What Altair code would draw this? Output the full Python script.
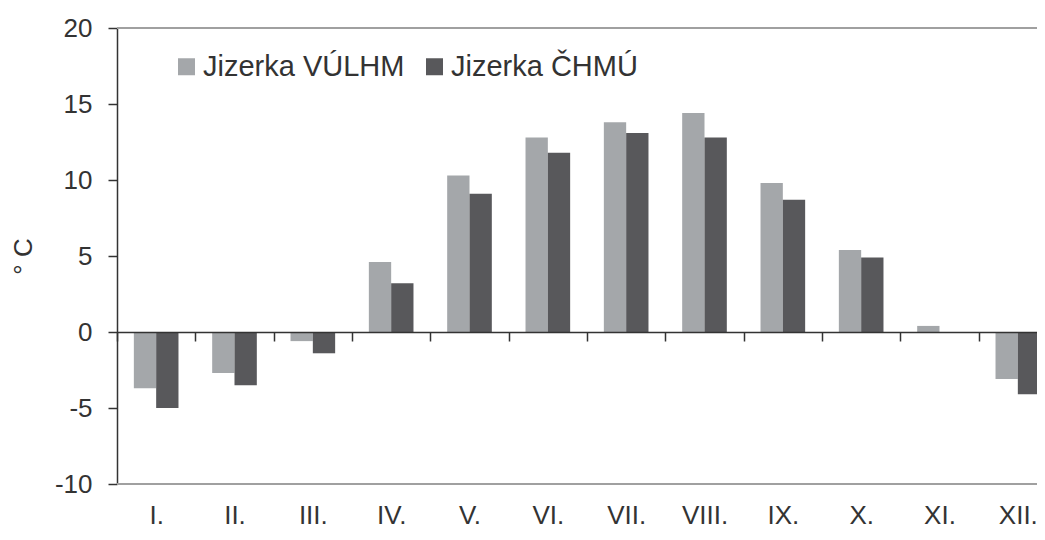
import altair as alt
import pandas as pd

months = ["I.", "II.", "III.", "IV.", "V.", "VI.", "VII.", "VIII.", "IX.", "X.", "XI.", "XII."]
series_names = ["Jizerka VÚLHM", "Jizerka ČHMÚ"]
vulhm = [-3.7, -2.7, -0.6, 4.6, 10.3, 12.8, 13.8, 14.4, 9.8, 5.4, 0.4, -3.1]
chmu = [-5.0, -3.5, -1.4, 3.2, 9.1, 11.8, 13.1, 12.8, 8.7, 4.9, 0.0, -4.1]
y_ticks = [-10, -5, 0, 5, 10, 15, 20]
colors = ["#a4a7aa", "#58585b"]

rows = []
for m, a, b in zip(months, vulhm, chmu):
    rows.append({"month": m, "series": series_names[0], "value": a})
    rows.append({"month": m, "series": series_names[1], "value": b})
df = pd.DataFrame(rows)
frame_df = pd.DataFrame({"value": [y_ticks[0], y_ticks[-1]]})

FONT = "Liberation Sans"
TEXT = "#333333"
AX = "#333333"
W, H = 920, 456
y_scale = alt.Scale(domain=[y_ticks[0], y_ticks[-1]], nice=False, zero=False)
y_axis = alt.Axis(
    values=y_ticks, grid=False, tickSize=9, labelPadding=16,
    labelExpr="toString(datum.value)",
    labelFontSize=26, labelFont=FONT, labelColor=TEXT,
    titleFontSize=26, titleFont=FONT, titleFontWeight="normal",
    titleColor=TEXT, titleX=-81, titleY=H / 2,
    domainColor=AX, tickColor=AX, domainWidth=1.5, tickWidth=1.5,
)

bars = alt.Chart(df).mark_bar().encode(
    x=alt.X(
        "month:N", sort=months, title=None,
        scale=alt.Scale(range=[0, 940], paddingInner=0, paddingOuter=0),
        axis=alt.Axis(
            offset=-152, tickBand="extent", labelAngle=0, tickSize=9,
            labelPadding=161, labelFontSize=26, labelFont=FONT, labelColor=TEXT,
            domainColor=AX, tickColor=AX, domainWidth=1.5, tickWidth=1.5,
            grid=False, zindex=1,
        ),
    ),
    xOffset=alt.XOffset(
        "series:N", sort=series_names,
        scale=alt.Scale(paddingInner=0, paddingOuter=0.755),
    ),
    y=alt.Y("value:Q", title="° C", scale=y_scale, axis=y_axis),
    color=alt.Color(
        "series:N", sort=series_names,
        scale=alt.Scale(domain=series_names, range=colors),
        legend=alt.Legend(
            title=None, orient="none", legendX=55, legendY=24,
            direction="horizontal", symbolType="square", symbolSize=289,
            symbolStrokeWidth=0, labelFontSize=29, labelFont=FONT,
            labelColor=TEXT, labelOffset=2, columnPadding=15, padding=0,
            labelLimit=0,
        ),
    ),
)

frame = alt.Chart(frame_df).mark_rule(color="#a0a0a0", strokeWidth=2).encode(
    y=alt.Y("value:Q", scale=y_scale, axis=y_axis, title="° C"),
)

chart = alt.layer(bars, frame).properties(
    width=W, height=H, autosize="none",
    padding={"left": 109, "top": 20, "right": 0, "bottom": 48},
    background="white",
).configure_view(stroke=None)

chart.save("out.html", embed_options={"renderer": "svg", "actions": False})
